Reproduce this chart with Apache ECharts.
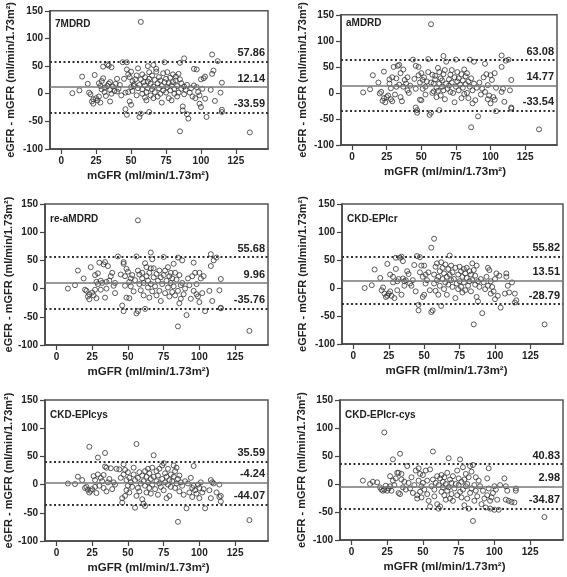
<!DOCTYPE html>
<html><head><meta charset="utf-8">
<script src="https://cdn.jsdelivr.net/npm/echarts@6/dist/echarts.min.js"></script>
<style>html,body{margin:0;padding:0;background:#fff}#c{width:567px;height:577px}</style>
</head><body><div id="c"></div>
<script>
const panelNames = ['7MDRD','aMDRD','re-aMDRD','CKD-EPIcr','CKD-EPIcys','CKD-EPIcr-cys'];
const xTicks = [0,25,50,75,100,125];
const yTicks = [-100,-50,0,50,100,150];
// reference line values (upper LoA, mean, lower LoA) as drawn
const linesP1 = [57.86, 12.14, -33.59];
const linesP2 = [63.08, 14.77, -33.54];
const linesP3 = [55.68, 9.96, -35.76];
const linesP4 = [55.82, 13.51, -28.79];
const linesP5 = [40.83, 2.98, -34.87];
const linesP6 = [35.59, -4.24, -44.07];
// printed labels
const labelsP1 = ['57.86','12.14','-33.59'];
const labelsP2 = ['63.08','14.77','-33.54'];
const labelsP3 = ['55.68','9.96','-35.76'];
const labelsP4 = ['55.82','13.51','-28.79'];
const labelsP5 = ['35.59','-4.24','-44.07'];
const labelsP6 = ['40.83','2.98','-34.87'];

const p1 = [[8,1],[13,6],[15,31],[19,18],[20,2],[21,-1],[22,-14],[23,-10],[23,-18],[24,34],[25,-8],[26,-12],[27,-5],[27,19],[28,14],[28,-16],[29,8],[29,23],[30,49],[30,28],[31,3],[31,11],[32,-4],[33,14],[33,53],[34,51],[34,18],[35,21],[35,-14],[35,7],[36,48],[36,0],[37,13],[38,5],[39,18],[40,27],[40,4],[41,9],[42,16],[43,-3],[44,57],[45,27],[46,2],[46,-28],[47,-38],[47,44],[47,57],[48,35],[48,3],[49,-14],[49,30],[50,12],[50,40],[50,-20],[51,23],[51,5],[52,14],[52,17],[53,26],[54,-3],[54,33],[55,46],[55,10],[56,-42],[56,16],[57,130],[57,-36],[57,26],[58,8],[58,35],[58,0],[59,21],[60,15],[60,30],[60,-7],[61,3],[61,-12],[62,22],[62,50],[62,10],[63,39],[63,-33],[63,27],[64,18],[64,-3],[65,8],[65,33],[66,13],[66,-8],[66,52],[67,25],[67,3],[68,40],[68,45],[69,19],[69,-5],[70,10],[70,30],[71,24],[71,0],[72,14],[72,-16],[73,6],[73,37],[74,21],[74,57],[75,2],[75,27],[76,12],[76,39],[77,-8],[77,19],[78,29],[78,6],[79,15],[79,-12],[80,35],[80,21],[81,0],[81,9],[82,31],[82,24],[83,14],[83,-5],[84,36],[84,2],[85,26],[85,56],[85,-68],[86,19],[86,9],[87,-30],[87,-23],[88,64],[88,13],[88,-1],[89,7],[90,16],[90,-37],[91,-45],[92,2],[93,10],[94,-5],[95,15],[95,45],[96,-8],[97,44],[97,12],[98,3],[99,-3],[99,-18],[100,-24],[100,26],[101,9],[102,28],[103,31],[103,-9],[104,-42],[107,7],[108,71],[108,36],[109,42],[110,-13],[112,59],[114,2],[115,20],[115,-29],[115,-33],[135,-70]];
const p2 = [[8,1],[13,7],[15,34],[19,20],[20,-1],[21,2],[22,-15],[23,-10],[23,41],[24,-18],[25,-8],[26,-5],[27,18],[27,26],[28,9],[28,-12],[29,-16],[29,30],[30,50],[31,-3],[32,12],[32,28],[33,52],[34,54],[34,16],[35,-8],[35,38],[36,-16],[37,45],[37,12],[38,25],[39,18],[40,5],[40,30],[41,0],[42,14],[44,64],[45,27],[46,52],[46,8],[46,-28],[47,-38],[47,-33],[48,50],[48,34],[49,-13],[49,20],[50,38],[50,-14],[51,25],[51,8],[52,30],[53,-3],[53,12],[54,22],[55,40],[55,65],[56,-42],[57,-38],[57,132],[57,20],[58,0],[58,35],[59,18],[59,3],[60,26],[60,33],[61,10],[61,-8],[62,48],[62,4],[63,-33],[63,18],[63,40],[64,28],[64,-5],[65,12],[65,24],[66,71],[66,5],[66,36],[67,-12],[67,44],[68,18],[68,60],[69,8],[70,26],[70,14],[71,35],[71,2],[72,20],[72,44],[73,0],[74,-18],[74,30],[75,64],[75,12],[76,22],[76,40],[77,5],[77,28],[78,16],[79,-10],[79,36],[80,10],[80,24],[81,45],[81,-2],[82,17],[82,32],[83,0],[83,38],[84,22],[84,-10],[85,64],[85,12],[86,-66],[86,28],[87,-20],[87,5],[88,60],[88,18],[89,-14],[90,10],[91,-45],[92,20],[93,-3],[94,8],[95,30],[96,56],[96,2],[97,36],[98,-12],[98,15],[99,-5],[100,34],[100,-20],[101,25],[102,-8],[103,38],[103,-13],[104,-35],[104,10],[108,72],[108,50],[108,2],[109,8],[110,-17],[111,62],[113,64],[115,-28],[115,25],[115,-30],[114,5],[135,-70]];
const p3 = [[8,0],[13,6],[15,32],[19,18],[20,-2],[21,-4],[22,-14],[23,-10],[23,-19],[24,38],[25,-7],[26,-12],[27,-2],[27,24],[28,12],[28,-17],[29,27],[29,8],[30,46],[31,-2],[31,14],[32,10],[33,43],[34,47],[34,-16],[35,12],[35,0],[36,40],[37,14],[38,22],[39,28],[40,5],[41,10],[41,-8],[43,57],[45,25],[46,-30],[47,-40],[47,47],[47,44],[48,5],[48,22],[49,-16],[49,35],[50,30],[51,-17],[51,12],[52,4],[52,18],[53,24],[54,-5],[55,15],[56,57],[56,-44],[57,121],[57,-40],[57,32],[58,8],[58,25],[59,-3],[60,18],[60,28],[61,-12],[61,10],[62,-36],[62,45],[63,22],[63,38],[64,2],[64,14],[65,-16],[65,28],[66,64],[66,8],[66,36],[67,-5],[67,52],[68,20],[68,36],[69,4],[70,-12],[70,26],[71,14],[72,32],[72,-4],[73,20],[73,-22],[74,8],[75,56],[75,24],[76,-8],[76,32],[77,14],[78,2],[78,38],[79,22],[79,-14],[80,10],[80,28],[81,-6],[81,18],[82,44],[82,4],[83,28],[83,-12],[84,16],[85,55],[85,-4],[85,-67],[86,24],[86,-26],[87,-18],[87,6],[88,50],[88,10],[89,-10],[90,0],[91,-47],[92,18],[93,6],[94,-18],[95,22],[96,46],[96,-4],[97,28],[98,-10],[98,8],[99,-14],[100,28],[100,-24],[101,18],[102,-8],[103,22],[104,-40],[107,-4],[108,61],[108,40],[109,-22],[110,50],[112,55],[114,-3],[115,17],[115,-34],[115,-35],[135,-75]];
const p4 = [[8,0],[13,5],[15,33],[19,18],[20,-4],[21,1],[22,-10],[23,-16],[24,43],[24,-14],[25,-10],[26,-6],[26,24],[27,-14],[28,20],[28,10],[29,-18],[30,34],[30,54],[31,12],[31,-4],[32,16],[33,54],[34,56],[34,-12],[35,17],[35,48],[36,4],[36,12],[37,14],[38,30],[39,25],[40,8],[41,4],[42,14],[43,41],[44,-6],[45,57],[46,-30],[46,-40],[47,55],[47,28],[48,40],[49,-16],[49,20],[50,40],[50,-12],[51,24],[51,8],[52,14],[53,28],[54,-4],[55,72],[55,-43],[56,-40],[57,88],[57,24],[57,8],[58,38],[58,-5],[59,14],[59,44],[60,20],[60,-12],[61,30],[61,4],[62,-32],[62,46],[63,16],[63,36],[64,26],[64,-2],[65,10],[65,42],[66,20],[66,-12],[67,6],[67,34],[68,58],[68,24],[69,14],[69,40],[70,2],[70,28],[71,16],[72,-18],[72,36],[73,8],[74,24],[74,-2],[75,38],[75,12],[76,30],[76,2],[77,20],[77,-8],[78,34],[78,10],[79,26],[79,-4],[80,18],[80,36],[81,4],[82,30],[82,12],[83,-6],[83,24],[84,14],[84,44],[85,-65],[85,32],[86,6],[86,22],[87,40],[87,-16],[88,12],[88,-24],[89,2],[90,16],[91,-45],[92,10],[93,-2],[94,20],[95,36],[95,4],[96,32],[97,-10],[97,12],[98,2],[99,-6],[100,16],[100,-20],[101,26],[102,-14],[103,22],[104,-35],[107,-10],[108,26],[108,20],[109,4],[110,-8],[112,10],[114,-10],[114,-26],[115,-22],[135,-65]];
const p5 = [[8,2],[13,1],[15,14],[18,8],[20,-6],[21,-4],[22,-9],[23,-14],[23,67],[24,-11],[25,-8],[26,15],[27,-4],[27,8],[28,-15],[29,48],[29,18],[30,-2],[31,12],[32,6],[33,17],[33,-6],[34,32],[34,56],[35,30],[35,-12],[36,4],[37,10],[38,29],[39,-8],[40,4],[41,0],[42,28],[44,27],[45,12],[46,-32],[46,-24],[47,36],[47,18],[48,-20],[48,26],[49,-10],[49,8],[50,22],[50,-2],[51,-14],[51,12],[52,4],[53,-4],[54,18],[54,30],[55,-41],[55,8],[56,72],[56,-20],[57,-6],[57,12],[58,22],[58,-12],[59,2],[60,-26],[60,16],[61,-34],[61,6],[62,-38],[62,24],[62,-2],[63,14],[63,-14],[64,28],[64,4],[65,-6],[65,20],[66,10],[66,-16],[67,30],[67,0],[68,52],[68,14],[69,-8],[70,24],[70,6],[71,-18],[71,16],[72,2],[72,28],[73,-4],[74,10],[74,34],[75,38],[75,-10],[76,20],[76,4],[77,-24],[77,14],[78,0],[78,28],[79,8],[79,-20],[80,18],[80,-4],[81,6],[82,14],[82,34],[83,-6],[83,24],[84,2],[84,30],[85,-66],[85,10],[86,16],[86,-12],[87,4],[88,-2],[89,-18],[90,6],[91,-42],[92,2],[93,-14],[94,12],[95,-6],[95,-22],[96,33],[96,-2],[97,-10],[98,-16],[99,0],[100,-24],[100,-6],[101,4],[102,-14],[103,-8],[104,-42],[107,-10],[108,8],[108,-24],[109,4],[110,2],[112,-14],[114,-22],[114,0],[115,-30],[115,-20],[135,-63]];
const p6 = [[8,6],[13,0],[15,4],[18,3],[20,-6],[21,-10],[22,-12],[23,-10],[23,92],[24,-3],[25,-12],[26,-8],[27,14],[27,-4],[28,-12],[29,44],[29,6],[30,-2],[31,10],[32,20],[33,-16],[33,20],[34,54],[34,-18],[35,18],[35,8],[36,-6],[37,4],[38,-10],[39,32],[40,2],[41,-8],[42,12],[43,-16],[44,-2],[45,24],[46,-26],[46,-20],[47,28],[47,6],[48,-14],[48,18],[49,-24],[49,-4],[50,16],[50,2],[51,-10],[52,24],[53,-18],[53,6],[54,-30],[55,26],[55,-40],[56,-4],[57,58],[57,8],[58,-22],[58,-10],[59,2],[60,14],[60,-36],[61,-44],[61,-2],[62,-40],[62,10],[63,-14],[63,16],[64,-6],[64,4],[65,-20],[65,12],[66,-28],[66,0],[67,20],[67,-12],[68,-6],[68,46],[69,-26],[69,8],[70,-18],[70,2],[71,-30],[71,14],[72,-8],[73,0],[74,24],[74,-20],[75,10],[75,-2],[76,-14],[76,44],[77,-24],[77,4],[78,30],[78,-10],[79,8],[79,-38],[80,-4],[80,18],[81,0],[81,-26],[82,12],[82,-44],[83,-16],[83,32],[84,-8],[84,22],[85,34],[85,-66],[86,-2],[86,-30],[87,-12],[87,12],[88,-22],[89,6],[90,-4],[91,-36],[92,-12],[93,-26],[94,-42],[95,10],[95,-20],[96,28],[96,-8],[97,-30],[97,-44],[98,-24],[99,-16],[100,-46],[100,-4],[101,-10],[102,-28],[103,-46],[104,-2],[107,10],[108,-4],[108,-28],[109,-12],[110,-30],[112,-32],[114,-33],[115,-12],[115,-8],[135,-59]];

const panelData = [p1,p2,p3,p4,p5,p6];
const panelLines = [linesP1,linesP2,linesP3,linesP4,linesP5,linesP6];
const panelLabels = [labelsP1,labelsP2,labelsP3,labelsP4,labelsP5,labelsP6];

// layout (pixels)
const grids = [
  {left:50, top:9, width:218, height:140},
  {left:341, top:8, width:216, height:137},
  {left:45, top:204, width:223, height:141},
  {left:342, top:204, width:221, height:140},
  {left:45, top:400, width:223, height:141},
  {left:340, top:400, width:223, height:140}
];
const yNameGaps = [34, 33, 29, 34, 29, 33];
const xNameGaps = [21, 21, 21, 21, 21, 21];
const xNamePadRight = [22, 8, 16, 12, 16, 14];

const FONT = 'Liberation Sans, Arial, sans-serif';
const axisColor = '#444';
const option = {
  animation:false,
  backgroundColor:'#fff',
  textStyle:{fontFamily:FONT},
  title: panelNames.map((n,i)=>({
    text:n, left:grids[i].left+5, top:grids[i].top+10, padding:0,
    textStyle:{fontSize:10, fontWeight:'bold', color:'#222', fontFamily:FONT}
  })),
  grid: grids.map(g=>Object.assign({show:true, borderColor:'#555', borderWidth:1.5, containLabel:false}, g)),
  xAxis: grids.map((g,i)=>({
    gridIndex:i, type:'value', min:-8, max:148,
    name:'mGFR (ml/min/1.73m²)', nameLocation:'middle', nameGap:xNameGaps[i],
    nameTextStyle:{fontSize:11.5, fontWeight:'bold', color:'#222', fontFamily:FONT, padding:[0, xNamePadRight[i], 0, 0]},
    splitLine:{show:false},
    axisLine:{show:true, onZero:false, lineStyle:{color:axisColor, width:1.5}},
    axisTick:{show:true, length:5, customValues:xTicks, lineStyle:{color:axisColor, width:1.2}},
    axisLabel:{customValues:xTicks, fontSize:10, fontWeight:'bold', color:'#222', margin:7, fontFamily:FONT}
  })),
  yAxis: grids.map((g,i)=>({
    gridIndex:i, type:'value', min:-100, max:150, interval:50,
    name:'eGFR - mGFR (ml/min/1.73m²)', nameLocation:'middle', nameGap:yNameGaps[i],
    nameTextStyle:{fontSize:11, fontWeight:'bold', color:'#222', fontFamily:FONT},
    splitLine:{show:false},
    axisLine:{show:true, onZero:false, lineStyle:{color:axisColor, width:1.5}},
    axisTick:{show:true, length:5, lineStyle:{color:axisColor, width:1.2}},
    axisLabel:{fontSize:10, fontWeight:'bold', color:'#222', margin:7, fontFamily:FONT}
  })),
  series: panelData.map((d,i)=>({
    type:'scatter', xAxisIndex:i, yAxisIndex:i, data:d,
    symbol:'circle', symbolSize:5,
    itemStyle:{color:'rgba(255,255,255,0)', borderColor:'#333', borderWidth:1},
    markLine:{
      silent:true, symbol:'none', animation:false,
      data: panelLines[i].map((v,k)=>({
        yAxis:v,
        lineStyle: k===1 ? {type:'solid', color:'#777', width:1.5} : {type:[2,2.5], color:'#333', width:2},
        label:{show:true, position:'insideEndTop', formatter:panelLabels[i][k], fontSize:11, fontWeight:'bold', color:'#222', distance:3, fontFamily:FONT}
      }))
    }
  }))
};
const chart = echarts.init(document.getElementById('c'), null, {renderer:'canvas'});
chart.setOption(option);
</script>
</body></html>
